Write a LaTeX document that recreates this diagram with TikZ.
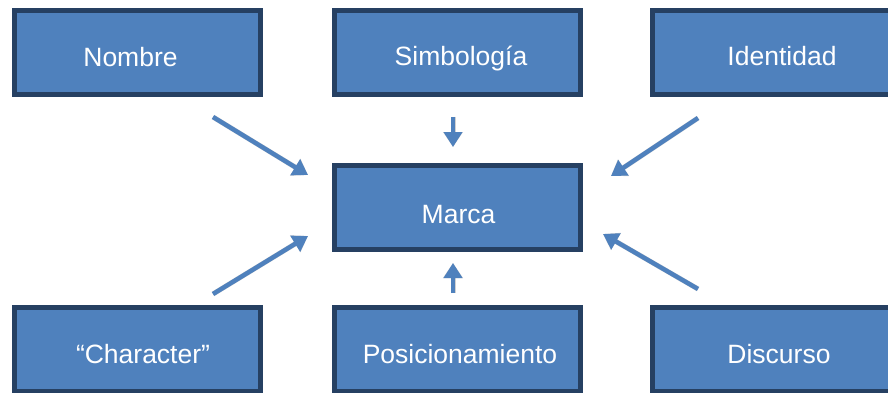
\documentclass[tikz,border=0pt]{standalone}
\usepackage{fontspec}
\setmainfont{Liberation Sans}
\usetikzlibrary{arrows.meta}
\definecolor{boxfill}{RGB}{79,129,189}
\definecolor{boxline}{RGB}{38,64,98}
\begin{document}
\begin{tikzpicture}[x=1pt,y=-1pt,
  box/.style={draw=boxline, line width=5pt, fill=boxfill, minimum width=246pt, minimum height=84pt, inner sep=0pt},
  lbl/.style={text=white, font=\fontsize{26.5}{31}\selectfont, anchor=base, inner sep=0pt},
  arr/.style={draw=boxfill, line width=4.5pt, -{Triangle[length=15pt,width=18pt]}},
  shd/.style={draw=black, opacity=0.18, line width=5pt, -{Triangle[length=15pt,width=19pt]}}]
\useasboundingbox (0,0) rectangle (888,393);
% boxes
\node[box] (nombre) at (137.5,52.5) {};
\node[box] (simbologia) at (457,52.5) {};
\node[box] (identidad) at (775.5,52.5) {};
\node[box] (marca) at (457,207.5) {};
\node[box] (character) at (137.5,349.5) {};
\node[box] (posicionamiento) at (457,349.5) {};
\node[box] (discurso) at (775.5,349.5) {};
% texts
\node[lbl] (tnombre) at (130.5,66.5) {Nombre};
\node[lbl] (tsimbologia) at (461,65.5) {Simbología};
\node[lbl] (tidentidad) at (782,65.5) {Identidad};
\node[lbl] (tmarca) at (458.5,223) {Marca};
\node[lbl] (tcharacter) at (143,363) {“Character”};
\node[lbl] (tposicionamiento) at (460,363) {Posicionamiento};
\node[lbl] (tdiscurso) at (779,363) {Discurso};
% arrow end points
\coordinate (a1s) at (213,117); \coordinate (a1e) at (308,175);
\coordinate (a2s) at (453,117); \coordinate (a2e) at (453,147);
\coordinate (a3s) at (698,118); \coordinate (a3e) at (611,176);
\coordinate (a4s) at (213,294); \coordinate (a4e) at (308,236);
\coordinate (a5s) at (453,293); \coordinate (a5e) at (453,263);
\coordinate (a6s) at (698,289); \coordinate (a6e) at (603,234);
% shadows
\begin{scope}[shift={(1.5,2)}]
\foreach \s/\e in {a1s/a1e,a2s/a2e,a3s/a3e,a4s/a4e,a5s/a5e,a6s/a6e}
  \draw[shd] (\s) -- (\e);
\end{scope}
% arrows
\foreach \s/\e in {a1s/a1e,a2s/a2e,a3s/a3e,a4s/a4e,a5s/a5e,a6s/a6e}
  \draw[arr] (\s) -- (\e);
\end{tikzpicture}
\end{document}
